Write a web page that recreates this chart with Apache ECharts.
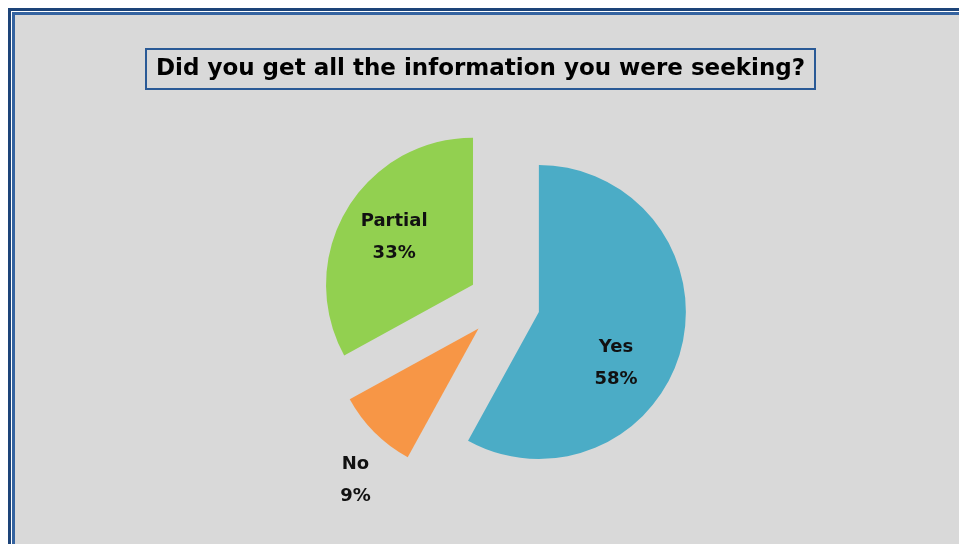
<!DOCTYPE html>
<html>
<head>
<meta charset="utf-8">
<script src="https://cdn.jsdelivr.net/npm/echarts@6/dist/echarts.min.js"></script>
<style>
  html, body { margin: 0; padding: 0; background: #ffffff; width: 959px; height: 544px; overflow: hidden; }
  #outer {
    position: absolute; left: 8px; top: 8px;
    width: 980px; height: 580px;
    border: 3px solid #1d4479;
    background: #ffffff;
  }
  #frame {
    position: absolute; left: 1px; top: 1px;
    width: 970px; height: 570px;
    border: 3px solid #3563a0;
    background: #d9d9d9;
  }
  #chart { position: absolute; left: 0; top: 0; width: 944px; height: 529px; }
</style>
</head>
<body>
<div id="outer"><div id="frame"><div id="chart"></div></div></div>
<script>
// Survey answers and their share of responses (%)
const answers = ['Yes', 'No', 'Partial'];
const shares = [58, 9, 33];
const sliceColors = ['#4bacc6', '#f79646', '#92d050'];
const chartTitle = 'Did you get all the information you were seeking?';

// Nudges for each label away from the slice's default inside spot
const labelNudge = [[3, 32], [-69, 98], [-13, -8]];

const chart = echarts.init(document.getElementById('chart'), null, { renderer: 'canvas' });

chart.setOption({
  animation: false,
  backgroundColor: 'transparent',
  title: {
    text: chartTitle,
    left: 131,
    top: 34,
    padding: [7, 10],
    borderWidth: 2,
    borderColor: '#2a5a96',
    textStyle: {
      fontFamily: 'DejaVu Sans',
      fontWeight: 'bold',
      fontSize: 23,
      lineHeight: 26,
      color: '#000000'
    }
  },
  series: [{
    type: 'pie',
    center: [489, 288],
    radius: [0, 147],
    startAngle: 90,
    clockwise: true,
    selectedMode: 'multiple',
    selectedOffset: 36,
    avoidLabelOverlap: false,
    emphasis: { disabled: true },
    itemStyle: { borderWidth: 0 },
    label: {
      show: true,
      position: 'inside',
      formatter: '{b}\n{c}%',
      fontFamily: 'DejaVu Sans',
      fontWeight: 'bold',
      fontSize: 18,
      lineHeight: 32,
      color: '#111111'
    },
    labelLine: { show: false },
    labelLayout: function (params) {
      const n = labelNudge[params.dataIndex] || [0, 0];
      return { dx: n[0], dy: n[1] };
    },
    data: answers.map((name, i) => ({
      name: name,
      value: shares[i],
      selected: true,
      itemStyle: { color: sliceColors[i] }
    }))
  }]
});
</script>
</body>
</html>
